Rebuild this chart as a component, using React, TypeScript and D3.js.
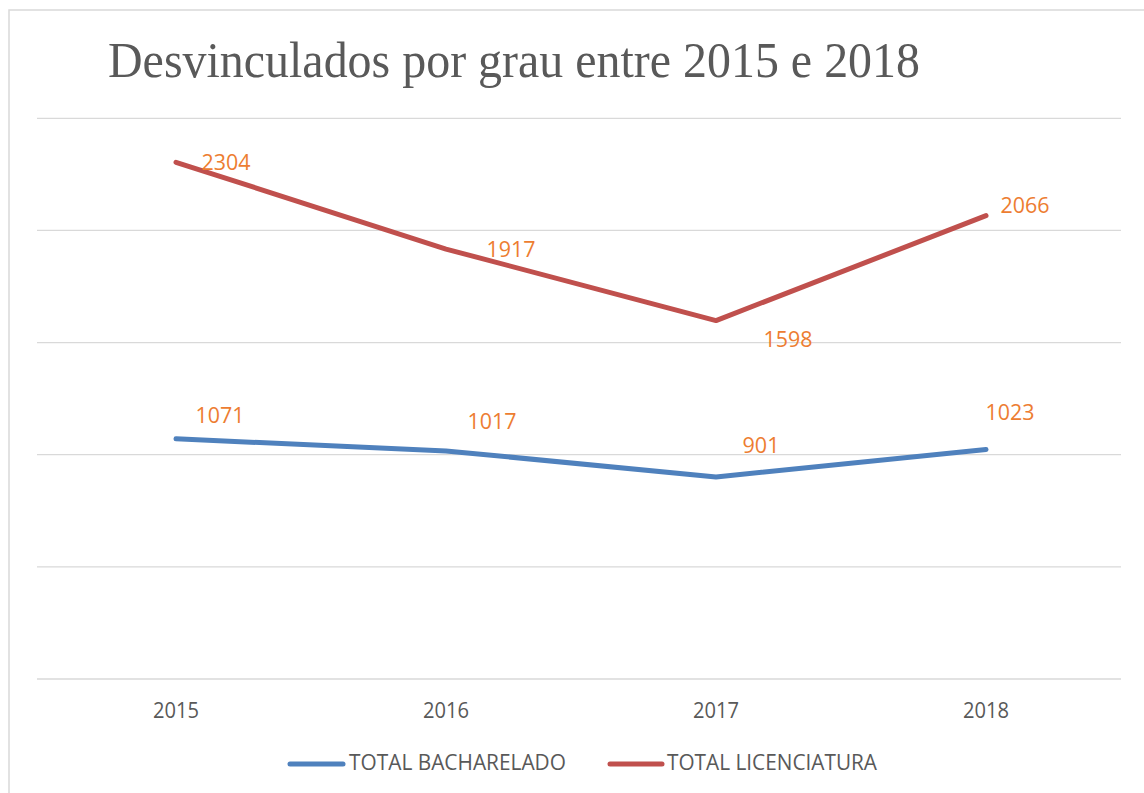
import React from "react";
import * as d3 from "d3";

const years = ["2015", "2016", "2017", "2018"];
const bacharelado = [1071, 1017, 901, 1023];
const licenciatura = [2304, 1917, 1598, 2066];
const yTicks = [0, 500, 1000, 1500, 2000, 2500];
const seriesNames = ["TOTAL BACHARELADO", "TOTAL LICENCIATURA"];
const title = "Desvinculados por grau entre 2015 e 2018";

// manual label placement (dx, dy from point)
const bachLabelOffsets = [[44, -16], [46, -22], [45, -24], [24, -30]];
const licLabelOffsets = [[50, 8], [65, 8], [72, 26], [39, -3]];

const W = 1144;
const H = 793;
const BLUE = "#4F81BD";
const RED = "#C0504D";
const ORANGE = "#ED7D31";
const GRAY = "#595959";
const GRID = "#D9D9D9";
const SANS = "'Open Sans', 'Liberation Sans', sans-serif";

export default function App() {
  const x = d3.scalePoint<string>().domain(years).range([41, 1121]).padding(0.5);
  const y = d3.scaleLinear().domain([0, 2500]).range([679, 118.3]);
  const line = d3
    .line<number>()
    .x((_, i) => x(years[i]) as number)
    .y((d) => y(d));

  const series = [
    { name: seriesNames[0], values: bacharelado, color: BLUE, offs: bachLabelOffsets },
    { name: seriesNames[1], values: licenciatura, color: RED, offs: licLabelOffsets },
  ];

  const legend = [
    { x1: 290, x2: 343, tx: 349, tw: 217, color: BLUE, name: seriesNames[0] },
    { x1: 610, x2: 662, tx: 667, tw: 210, color: RED, name: seriesNames[1] },
  ];

  return (
    <div style={{ position: "absolute", left: 0, top: 0, width: W, height: H }}>
      <svg width={W} height={H} style={{ display: "block", background: "#fff" }}>
        <rect x={9} y={10} width={W + 20} height={H + 20} fill="#fff" stroke={GRID} strokeWidth={1.5} />
        <text
          x={108}
          y={77}
          fontFamily="'Liberation Serif', 'Times New Roman', serif"
          fontSize={51}
          fill={GRAY}
          textLength={812}
          lengthAdjust="spacingAndGlyphs"
        >
          {title}
        </text>
        {yTicks.map((t) => (
          <line key={t} x1={37} x2={1121} y1={y(t)} y2={y(t)} stroke={GRID} strokeWidth={1.3} />
        ))}
        {years.map((yr) => (
          <text
            key={yr}
            x={x(yr)}
            y={718}
            textAnchor="middle"
            fontFamily={SANS}
            fontSize={21}
            fill={GRAY}
            textLength={46}
            lengthAdjust="spacingAndGlyphs"
          >
            {yr}
          </text>
        ))}
        {series.map((s) => (
          <path
            key={s.name}
            d={line(s.values) || ""}
            fill="none"
            stroke={s.color}
            strokeWidth={5}
            strokeLinecap="round"
            strokeLinejoin="round"
          />
        ))}
        {series.map((s) =>
          s.values.map((v, i) => (
            <text
              key={s.name + i}
              x={(x(years[i]) as number) + s.offs[i][0]}
              y={y(v) + s.offs[i][1]}
              textAnchor="middle"
              fontFamily={SANS}
              fontSize={21}
              fill={ORANGE}
              textLength={String(v).length === 4 ? 49 : 37}
              lengthAdjust="spacingAndGlyphs"
            >
              {v}
            </text>
          ))
        )}
        {legend.map((l) => (
          <g key={l.name}>
            <line x1={l.x1} x2={l.x2} y1={764} y2={764} stroke={l.color} strokeWidth={5} strokeLinecap="round" />
            <text
              x={l.tx}
              y={770}
              fontFamily={SANS}
              fontSize={21}
              fill={GRAY}
              textLength={l.tw}
              lengthAdjust="spacingAndGlyphs"
            >
              {l.name}
            </text>
          </g>
        ))}
      </svg>
    </div>
  );
}
